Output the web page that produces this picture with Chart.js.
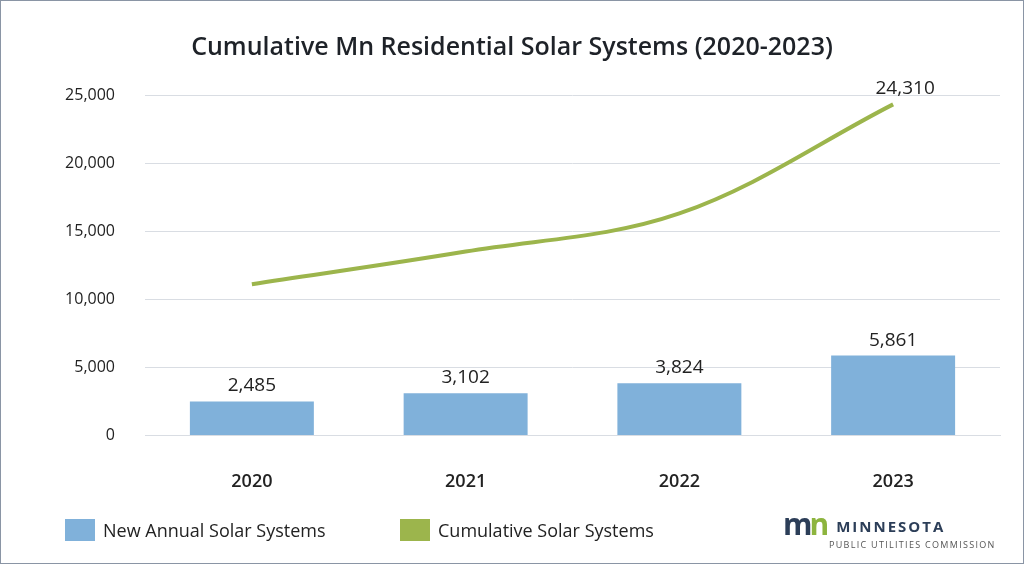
<!DOCTYPE html>
<html><head><meta charset="utf-8">
<script src="https://cdn.jsdelivr.net/npm/chart.js@4"></script>
<style>
body{margin:0;width:1024px;height:564px;overflow:hidden;background:#fff;font-family:"Open Sans",sans-serif;}
#frame{position:absolute;left:0;top:0;width:1022px;height:562px;border:1px solid #8a95a5;}
#title{position:absolute;left:0;width:1024px;top:28px;text-align:center;font-size:25px;font-weight:600;color:#1e2228;}
#wrap{position:absolute;left:0;top:0;width:1024px;height:564px;}
.leg{position:absolute;top:518px;font-size:18px;font-weight:500;color:#222;display:flex;align-items:center;}
.sw{width:30px;height:22px;margin-right:8px;}
#logo{position:absolute;left:783px;top:512px;}
</style></head><body>
<div id="frame"></div>
<div id="wrap"><canvas id="c" width="1024" height="564"></canvas></div>
<div id="title">Cumulative Mn Residential Solar Systems (2020-2023)</div>
<div class="leg" style="left:65px"><div class="sw" style="background:#80b1da"></div>New Annual Solar Systems</div>
<div class="leg" style="left:400px"><div class="sw" style="background:#9cb54c"></div>Cumulative Solar Systems</div>
<div id="logo">
<div style="display:flex;align-items:flex-end;"><span style="font:bold 30px 'Open Sans';letter-spacing:-3px;color:#2c3e58;line-height:24px">m<span style="color:#8db43e">n</span></span>
<span style="font:bold 15px 'Open Sans';color:#2c3e58;letter-spacing:2px;margin-left:10px">MINNESOTA</span></div>
<div style="font-size:9px;letter-spacing:1.3px;color:#555;margin-left:46px;margin-top:2px">PUBLIC UTILITIES COMMISSION</div>
</div>
<script>
const categories=["2020","2021","2022","2023"];
const newAnnual=[2485,3102,3824,5861];
const cumulative=[11100,13500,16300,24310];
const yTicks=[0,5000,10000,15000,20000,25000];
const labelsPlugin={id:'lbl',afterDatasetsDraw(ch){
 const ctx=ch.ctx;ctx.save();ctx.font='500 19px "Open Sans"';ctx.fillStyle='#222';ctx.textAlign='center';ctx.textBaseline='bottom';
 ch.getDatasetMeta(0).data.forEach((b,i)=>ctx.fillText(newAnnual[i].toLocaleString('en-US'),b.x,b.y-6));
 const m=ch.getDatasetMeta(1).data;const p=m[m.length-1];
 ctx.fillText(cumulative[cumulative.length-1].toLocaleString('en-US'),p.x+12,p.y-6);
 ctx.restore();}};
new Chart(document.getElementById('c'),{
 data:{labels:categories,datasets:[
  {type:'bar',data:newAnnual,backgroundColor:'#80b1da',barPercentage:0.58,categoryPercentage:1,order:2},
  {type:'line',data:cumulative,borderColor:'#9cb54c',borderWidth:4,pointRadius:0,tension:0.35,order:1}]},
 options:{responsive:false,animation:false,
  layout:{padding:{left:40,right:24,top:95,bottom:43}},
  plugins:{legend:{display:false},tooltip:{enabled:false}},
  scales:{
   x:{grid:{display:false},border:{color:'#d9dde3'},ticks:{color:'#222',font:{size:18,weight:600,family:'Open Sans'},padding:28}},
   y:{min:0,max:25000,afterBuildTicks(a){a.ticks=yTicks.map(v=>({value:v}));},afterFit(a){a.width=105;},
      border:{display:false},grid:{color:'#d9dde3',drawTicks:false},
      ticks:{color:'#222',font:{size:16,weight:500,family:'Open Sans'},padding:30,callback:v=>v.toLocaleString('en-US')}}}},
 plugins:[labelsPlugin]});
</script></body></html>
